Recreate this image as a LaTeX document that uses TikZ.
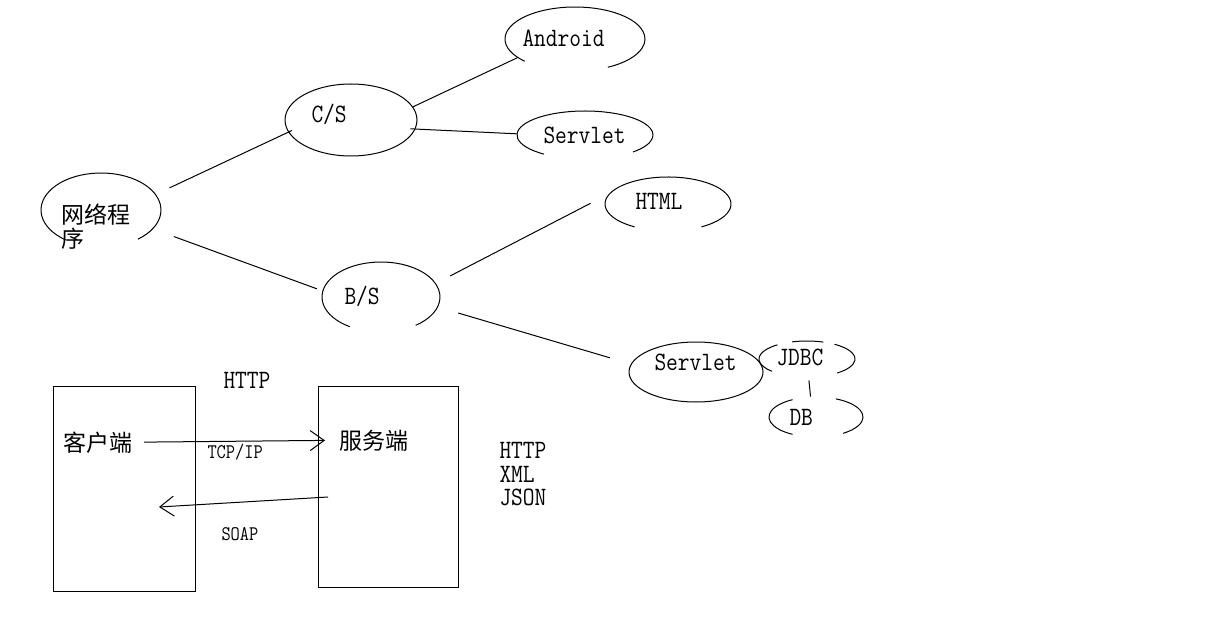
\documentclass[tikz,border=0pt]{standalone}
\usepackage{fontspec}
\usepackage{tikz}
\usetikzlibrary{shapes.geometric,arrows.meta}
\setmainfont{Latin Modern Mono}[FakeStretch=0.86]
\newfontfamily\cjk{Noto Sans CJK SC}
\newcommand{\openarc}[5]{\draw ([shift={(#4:#2 and #3)}]#1.center) arc[start angle=#4, end angle=#5, x radius=#2, y radius=#3];}

\begin{document}
\begin{tikzpicture}[x=1pt, y=-1pt, line width=1pt,
  bub/.style 2 args={shape=ellipse, minimum width=2*#1, minimum height=2*#2, inner sep=0pt},
  lbl/.style={inner sep=0pt, anchor=base west, font=\fontsize{26.5}{24}\selectfont},
  sml/.style={lbl, font=\fontsize{20.8}{24}\selectfont},
  zh/.style={lbl, font=\cjk\fontsize{23}{24}\selectfont},
  box/.style 2 args={draw, minimum width=#1, minimum height=#2, inner sep=0pt},
  arr/.style={-{Straight Barb[length=14pt, width=20pt]}}]

\useasboundingbox (0,0) rectangle (1218,620);

\node[bub={60}{37}] (prog) at (101,210) {};
\node[bub={66}{36}, draw] (cs) at (351,120) {};
\node[bub={59}{35}] (bs) at (381,297) {};
\node[bub={70}{32}] (andr) at (575,39) {};
\node[bub={68}{24}] (serv1) at (585,135) {};
\node[bub={63}{27}] (html) at (668,204) {};
\node[bub={67}{30}, draw] (serv2) at (696,372) {};
\node[bub={48}{18}] (jdbc) at (807,359) {};
\node[bub={47}{20}] (db) at (816,417) {};

\openarc{prog}{60}{37}{126}{412}
\openarc{bs}{59}{35}{122}{414}
\openarc{andr}{70}{32}{136}{422}
\openarc{serv1}{68}{24}{127}{405}
\openarc{html}{63}{27}{122}{418}
\openarc{jdbc}{48}{18}{137}{232}
\openarc{jdbc}{48}{18}{252}{290}
\openarc{jdbc}{48}{18}{305}{411}
\openarc{db}{47}{20}{120}{240}
\openarc{db}{47}{20}{295}{415}

\node[zh, anchor=north west, align=left] (prog-t) at (61,203) {网络程\\序};
\node[lbl] (cs-t) at (311,123) {C/S};
\node[lbl] (bs-t) at (344,305) {B/S};
\node[lbl] (andr-t) at (522,47) {Android};
\node[lbl] (serv1-t) at (543,144) {Servlet};
\node[lbl] (html-t) at (635,210) {HTML};
\node[lbl] (serv2-t) at (654,370) {Servlet};
\node[lbl] (jdbc-t) at (776,365) {JDBC};
\node[lbl] (db-t) at (789,425) {DB};

\draw[shorten <=15pt, shorten >=-4pt] (prog.16) -- (cs.191);
\draw[shorten <=22pt, shorten >=6pt] (prog.-20) -- (bs.174);
\draw (cs.12) -- (andr.198);
\draw[shorten <=-5pt] (cs.-8) -- (serv1.179);
\draw[shorten <=16pt, shorten >=21pt] (bs.14) -- (html.170);
\draw[shorten <=21pt, shorten >=22pt] (bs.-10) -- (serv2.173);
\draw[shorten <=3pt] (jdbc.275) -- (db.105);

\node[box={142}{205}] (client) at (124,488.5) {};
\node[box={140}{201}] (server) at (388,486.5) {};
\node[zh] (client-t) at (63,451) {客户端};
\node[zh] (server-t) at (339,449) {服务端};
\node[lbl] (http) at (223,388) {HTTP};
\node[sml] (tcp) at (207,458) {TCP/IP};
\node[sml] (soap) at (221,540) {SOAP};
\node[lbl] (fmt1) at (499,458) {HTTP};
\node[lbl] (fmt2) at (499,482) {XML};
\node[lbl] (fmt3) at (499,505) {JSON};

\coordinate (ret-a) at (328,497);
\coordinate (ret-b) at (159,507);

\draw[arr, shorten <=11pt, shorten >=14pt] (client-t.east) -- (server-t.west);
\draw[arr] (ret-a) -- (ret-b);

\end{tikzpicture}
\end{document}
